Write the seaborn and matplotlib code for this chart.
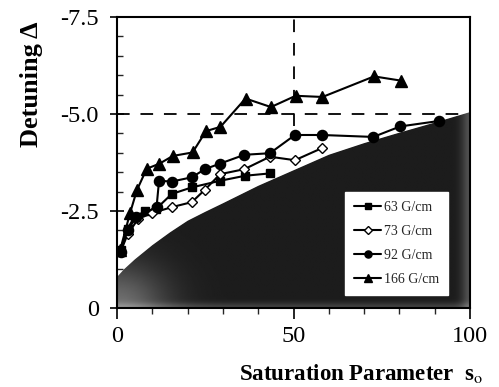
import numpy as np
import pandas as pd
import matplotlib
matplotlib.use("Agg")
import matplotlib.pyplot as plt
import seaborn as sns
from matplotlib.ticker import MultipleLocator
from matplotlib.patches import PathPatch

# ---------------- data ----------------
series_names = ["63 G/cm", "73 G/cm", "92 G/cm", "166 G/cm"]

s_63 = [1, 3, 5, 8, 11, 15.5, 21.2, 29.2, 36.3, 43.3]
d_63 = [-1.5, -2.05, -2.35, -2.5, -2.55, -2.94, -3.11, -3.28, -3.41, -3.47]

s_73 = [1, 3, 6, 10, 15.5, 21.2, 24.9, 29.2, 36.1, 43.3, 50.4, 58.0]
d_73 = [-1.45, -1.9, -2.3, -2.45, -2.6, -2.73, -3.05, -3.45, -3.58, -3.9, -3.81, -4.12]

s_92 = [1, 3, 5.5, 11.2, 11.9, 15.5, 21.2, 24.9, 29.1, 36.1, 43.3, 50.4, 58.0, 72.6, 80.2, 91.1]
d_92 = [-1.45, -2.0, -2.35, -2.6, -3.28, -3.26, -3.37, -3.58, -3.72, -3.95, -3.99, -4.46, -4.46, -4.41, -4.68, -4.82]

s_166 = [0.9, 3.7, 5.6, 8.4, 12.0, 15.8, 21.4, 25.2, 29.3, 36.4, 43.6, 50.6, 58.2, 72.8, 80.5]
d_166 = [-1.5, -2.45, -3.03, -3.59, -3.72, -3.92, -4.01, -4.56, -4.67, -5.40, -5.18, -5.47, -5.44, -5.97, -5.86]

# boundary of the shaded (forbidden) region
bound_s = [0, 2, 5, 10, 15, 20, 25, 30, 40, 50, 60, 70, 80, 90, 100]
bound_d = [-0.8, -1.0, -1.25, -1.62, -1.95, -2.25, -2.48, -2.7, -3.15, -3.55, -3.95, -4.25, -4.52, -4.78, -5.05]

ref_detuning = -5.0
ref_saturation = 50
ref_sat_bottom = -4.7

x_ticks = [0, 50, 100]
x_ticklabels = ["0", "50", "100"]
y_ticks = [0, -2.5, -5.0, -7.5]
y_ticklabels = ["0", "-2.5", "-5.0", "-7.5"]

# ---------------- styling ----------------
sns.set_theme(style="white")
plt.rcParams["font.family"] = ["Liberation Serif", "DejaVu Serif"]
plt.rcParams["mathtext.fontset"] = "stix"

fig = plt.figure(figsize=(4.99, 3.87), dpi=100)
ax = fig.add_axes([0.2345, 0.204, 0.7075, 0.752])

# shaded region: dark fill with lighter grey toward the lower-left corner and right edge
region = ax.fill_between(bound_s, bound_d, 0, color="#1c1c1c", lw=0, zorder=1)
clip = PathPatch(region.get_paths()[0], transform=ax.transData,
                 facecolor="none", edgecolor="none")
ax.add_patch(clip)
gx = np.linspace(0, 100, 300)
gy = np.linspace(0, -7.5, 200)
GX, GY = np.meshgrid(gx, gy)
shade = (0.11 + 0.33 * np.exp(-((GX / 14.0) ** 2 + (GY / 1.1) ** 2))
         + 0.22 * np.exp(-((GX - 100) / 2.5) ** 2)
         + 0.15 * np.exp(-(GY / 0.12) ** 2))
im = ax.imshow(np.clip(shade, 0, 1), extent=[0, 100, 0, -7.5], origin="lower",
               cmap="gray", vmin=0, vmax=1, aspect="auto", zorder=1.5,
               interpolation="bilinear")
im.set_clip_path(clip)

ax.axhline(ref_detuning, color="black", lw=1.3, dashes=(7, 6), zorder=2)
ax.axvline(ref_saturation, ymin=ref_sat_bottom / -7.5, ymax=1, color="black",
           lw=1.3, dashes=(7, 6), zorder=2)

df = pd.concat([
    pd.DataFrame({"s": s, "d": d, "series": n})
    for s, d, n in zip([s_63, s_73, s_92, s_166], [d_63, d_73, d_92, d_166], series_names)
])

marker_styles = {
    "63 G/cm": dict(marker="s", markersize=6.3, markerfacecolor="black"),
    "73 G/cm": dict(marker="D", markersize=5.2, markerfacecolor="white"),
    "92 G/cm": dict(marker="o", markersize=7.3, markerfacecolor="black"),
    "166 G/cm": dict(marker="^", markersize=8, markerfacecolor="black"),
}

for name in series_names:
    sub = df[df["series"] == name]
    sns.lineplot(data=sub, x="s", y="d", ax=ax, color="black", lw=1.5,
                 sort=False, estimator=None, label=name,
                 markeredgecolor="black", markeredgewidth=1.0, zorder=3,
                 **marker_styles[name])

ax.set_xlim(0, 100)
ax.set_ylim(0, -7.5)
ax.set_xticks(x_ticks)
ax.set_xticklabels(x_ticklabels)
ax.set_yticks(y_ticks)
ax.set_yticklabels(y_ticklabels)
ax.xaxis.set_minor_locator(MultipleLocator(10))
ax.yaxis.set_minor_locator(MultipleLocator(0.5))

ax.tick_params(axis="y", which="major", direction="inout", length=10, width=1.2,
               left=True, labelsize=17.5, pad=8, colors="black")
ax.tick_params(axis="y", which="minor", direction="in", length=4, width=1.0, left=True)
ax.tick_params(axis="x", which="major", direction="out", length=8, width=1.2,
               bottom=True, labelsize=17.5, pad=5, colors="black")
ax.tick_params(axis="x", which="minor", direction="out", length=4, width=1.0, bottom=True)

for sp in ax.spines.values():
    sp.set_color("black")
    sp.set_linewidth(1.5)

ax.set_xlabel(r"Saturation Parameter  s$_{\mathrm{o}}$", fontsize=16.5,
              fontweight="bold", color="black")
ax.set_ylabel("Detuning Δ", fontsize=19, fontweight="bold", color="black")
ax.xaxis.set_label_coords(0.691, -0.185)
ax.yaxis.set_label_coords(-0.21, 0.77)

leg = ax.legend(loc="center", bbox_to_anchor=(0.792, 0.222), frameon=True,
                fancybox=False, facecolor="white", edgecolor="white", framealpha=1,
                fontsize=10, handlelength=1.95, labelspacing=0.8, borderpad=0.65,
                markerscale=0.7, handletextpad=0.2)
leg.set_zorder(5)

fig.savefig("out.png", dpi=100, facecolor="white")
